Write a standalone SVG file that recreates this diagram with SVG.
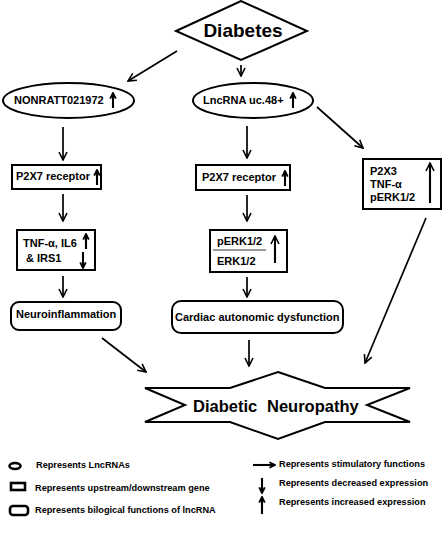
<svg xmlns="http://www.w3.org/2000/svg" width="448" height="537" viewBox="0 0 448 537">
<style>
text{font-family:"Liberation Sans",Arial,sans-serif;font-weight:bold;fill:#000}
.t{font-size:11px}
.lg{font-size:9.2px}
.sh{fill:#fff;stroke:#000;stroke-width:2}
.ln{stroke:#000;stroke-width:1.7;fill:none}
.ex{stroke:#000;stroke-width:2.1;fill:none}
.lgs{fill:#fff;stroke:#000;stroke-width:2.6}
</style>
<defs>
<marker id="ah" viewBox="0 0 10 10" refX="9" refY="5" markerWidth="10" markerHeight="10" markerUnits="userSpaceOnUse" orient="auto">
<path d="M1,1 L9,5 L1,9" fill="none" stroke="#000" stroke-width="1.6"/>
</marker>
<marker id="as" viewBox="0 0 10 10" refX="9" refY="5" markerWidth="7" markerHeight="8" markerUnits="userSpaceOnUse" orient="auto">
<path d="M1,1 L9,5 L1,9" fill="none" stroke="#000" stroke-width="2.6"/>
</marker>
</defs>
<rect width="448" height="537" fill="#fff"/>

<g id="connectors">
<line class="ln" x1="177" y1="51" x2="128" y2="81" marker-end="url(#ah)"/>
<line class="ln" x1="241" y1="65" x2="241" y2="76" marker-end="url(#ah)"/>
<line class="ln" x1="317" y1="107" x2="363" y2="148" marker-end="url(#ah)"/>
<line class="ln" x1="63" y1="127" x2="63" y2="160" marker-end="url(#ah)"/>
<line class="ln" x1="63" y1="194" x2="63" y2="221" marker-end="url(#ah)"/>
<line class="ln" x1="63" y1="276" x2="63" y2="297" marker-end="url(#ah)"/>
<line class="ln" x1="247" y1="126" x2="247" y2="158" marker-end="url(#ah)"/>
<line class="ln" x1="247" y1="195" x2="247" y2="221" marker-end="url(#ah)"/>
<line class="ln" x1="247" y1="277" x2="247" y2="297" marker-end="url(#ah)"/>
<line class="ln" x1="102" y1="338" x2="146" y2="372" marker-end="url(#ah)"/>
<line class="ln" x1="249" y1="340" x2="249" y2="366" marker-end="url(#ah)"/>
<line class="ln" x1="426" y1="218" x2="365" y2="363" marker-end="url(#ah)"/>
</g>

<g id="diabetes">
<polygon class="sh" points="176,31 241,1 307,31 241,60"/>
<text x="243" y="37" font-size="19" text-anchor="middle">Diabetes</text>
</g>

<g id="nonratt">
<ellipse class="sh" cx="68.5" cy="100.5" rx="65.5" ry="17.5"/>
<text class="t" x="14" y="104">NONRATT021972</text>
<line class="ex" x1="113" y1="108" x2="113" y2="93" marker-end="url(#as)"/>
</g>

<g id="lncrna">
<ellipse class="sh" cx="253" cy="100.5" rx="60" ry="17.5"/>
<text class="t" x="203" y="104">LncRNA uc.48+</text>
<line class="ex" x1="293" y1="108" x2="293" y2="93" marker-end="url(#as)"/>
</g>

<g id="p2x7-left">
<rect class="sh" x="12" y="165" width="89" height="24"/>
<text class="t" x="16" y="180">P2X7 receptor</text>
<line class="ex" x1="97" y1="185" x2="97" y2="170" marker-end="url(#as)"/>
</g>

<g id="p2x7-mid">
<rect class="sh" x="196" y="165" width="94" height="25"/>
<text class="t" x="202" y="181">P2X7 receptor</text>
<line class="ex" x1="285" y1="186" x2="285" y2="171" marker-end="url(#as)"/>
</g>

<g id="p2x3">
<rect class="sh" x="363" y="159" width="78" height="50"/>
<text class="t" x="370" y="175">P2X3</text>
<text class="t" x="370" y="188">TNF-α</text>
<text class="t" x="370" y="201">pERK1/2</text>
<line class="ex" x1="430" y1="203" x2="430" y2="163" marker-end="url(#ah)"/>
</g>

<g id="tnf">
<rect class="sh" x="17" y="230" width="78" height="40"/>
<text class="t" x="23" y="247">TNF-α, IL6</text>
<text class="t" x="26" y="262">&amp; IRS1</text>
<line class="ex" x1="86" y1="249" x2="86" y2="234" marker-end="url(#as)"/>
<line class="ex" x1="83" y1="252" x2="83" y2="268" marker-end="url(#as)"/>
</g>

<g id="perk">
<rect class="sh" x="210" y="230" width="77" height="42"/>
<text class="t" x="217" y="245">pERK1/2</text>
<line x1="213" y1="250" x2="266" y2="250" stroke="#777" stroke-width="1.3"/>
<text class="t" x="217" y="265">ERK1/2</text>
<line class="ex" x1="275" y1="263" x2="275" y2="236" marker-end="url(#ah)"/>
</g>

<g id="neuroinflammation">
<rect class="sh" x="11" y="302" width="110" height="28" rx="8" ry="8"/>
<text class="t" x="16" y="318">Neuroinflammation</text>
</g>

<g id="cardiac">
<rect class="sh" x="172" y="301" width="171" height="32" rx="9" ry="9"/>
<text class="t" x="175" y="321">Cardiac autonomic dysfunction</text>
</g>

<g id="diabetic-neuropathy">
<polygon class="sh" points="278,372 325,388 410,388 367,405 410,422 325,422 278,439 230,422 145,422 185,405 145,388 230,388"/>
<text font-size="16.5" y="412"><tspan x="193">Diabetic</tspan><tspan x="267">Neuropathy</tspan></text>
</g>

<g id="legend">
<ellipse class="lgs" cx="15" cy="466" rx="5.5" ry="3"/>
<text class="lg" x="36" y="468">Represents  LncRNAs</text>
<rect class="lgs" x="11" y="483" width="14" height="7"/>
<text class="lg" x="35" y="491">Represents upstream/downstream gene</text>
<rect class="lgs" x="10" y="506" width="18" height="9" rx="3" ry="3"/>
<text class="lg" x="35" y="513">Represents bilogical functions of lncRNA</text>
<line class="ex" x1="253" y1="465" x2="275" y2="465" marker-end="url(#as)"/>
<text class="lg" x="279" y="467">Represents stimulatory functions</text>
<line class="ex" x1="262" y1="478" x2="262" y2="493" marker-end="url(#as)"/>
<text class="lg" x="279" y="486">Represents decreased expression</text>
<line class="ex" x1="262" y1="514" x2="262" y2="497" marker-end="url(#as)"/>
<text class="lg" x="279" y="505">Represents increased expression</text>
</g>
</svg>
